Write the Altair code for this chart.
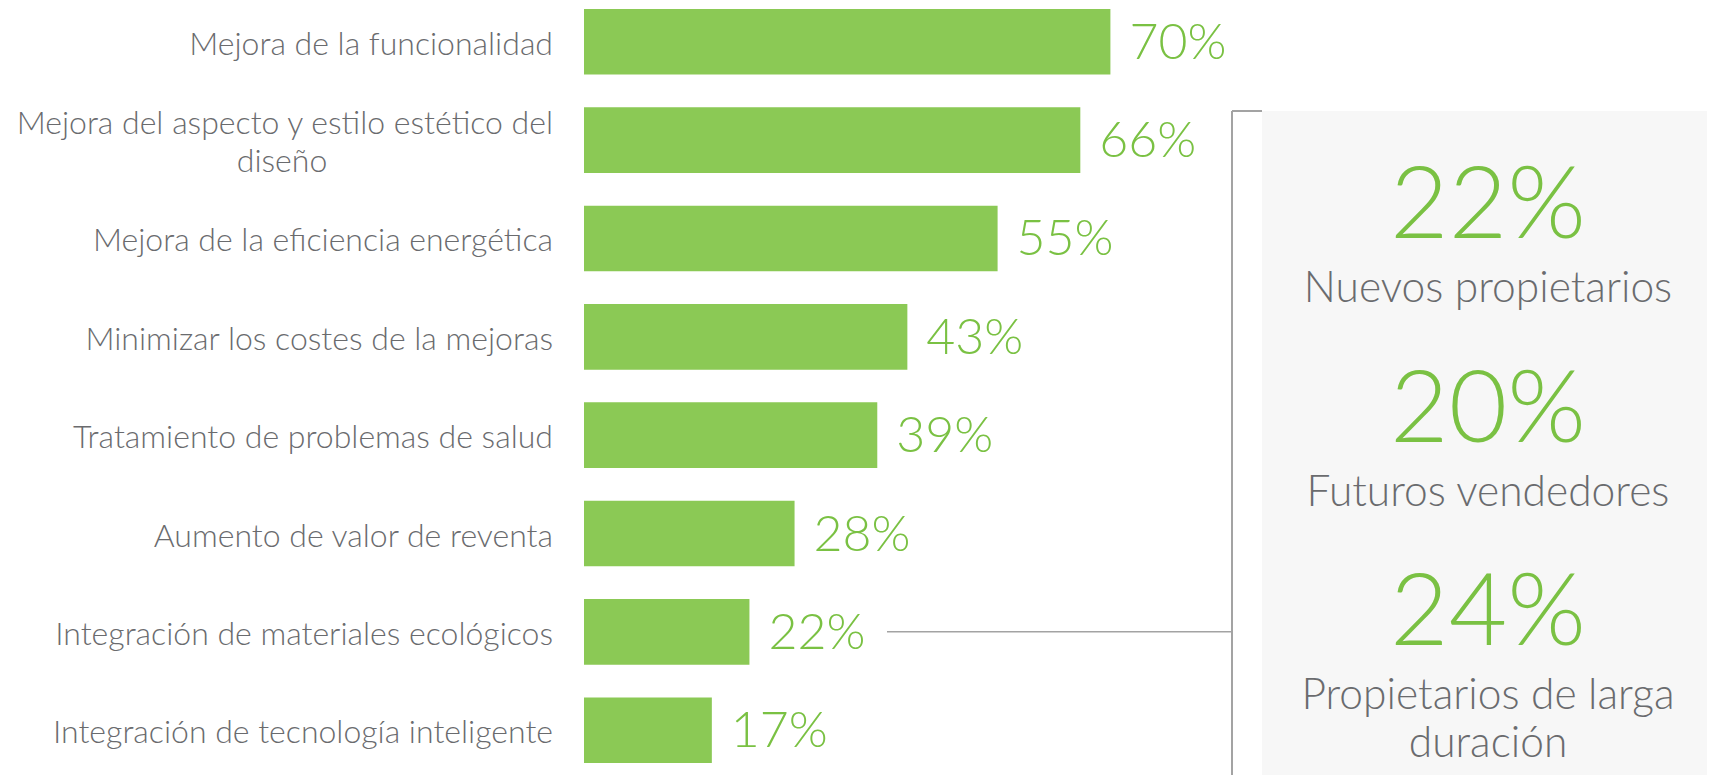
import altair as alt
import pandas as pd

# ---------------- data ----------------
categories = [
    "Mejora de la funcionalidad",
    "Mejora del aspecto y estilo estético del diseño",
    "Mejora de la eficiencia energética",
    "Minimizar los costes de la mejoras",
    "Tratamiento de problemas de salud",
    "Aumento de valor de reventa",
    "Integración de materiales ecológicos",
    "Integración de tecnología inteligente",
]
label_line1 = [
    "Mejora de la funcionalidad",
    "Mejora del aspecto y estilo estético del",
    "Mejora de la eficiencia energética",
    "Minimizar los costes de la mejoras",
    "Tratamiento de problemas de salud",
    "Aumento de valor de reventa",
    "Integración de materiales ecológicos",
    "Integración de tecnología inteligente",
]
label_line2 = ["", "diseño", "", "", "", "", "", ""]
values = [70, 66, 55, 43, 39, 28, 22, 17]

segments = ["Nuevos propietarios", "Futuros vendedores", "Propietarios de larga\nduración"]
segment_values = [22, 20, 24]
highlight_category = "Integración de materiales ecológicos"

# ---------------- style ----------------
W, H = 1699, 767
BAR = "#8BC955"
GREEN = "#7AC143"
GREY_TXT = "#6A6B6E"
LINE = "#A3A3A3"
PANEL = "#F7F7F7"
FONT = "Lato"

df = pd.DataFrame({
    "cat": categories,
    "l1": label_line1,
    "l2": label_line2,
    "value": values,
    "pct": [f"{v}%" for v in values],
})
seg = pd.DataFrame({
    "seg": segments,
    "value": segment_values,
    "pct": [f"{v}%" for v in segment_values],
})

yscale = alt.Scale(domain=categories, range=[1, 755], paddingInner=0.333, paddingOuter=0)
xscale = alt.Scale(domain=[0, 100], range=[576, 1328])
Y = alt.Y("cat:N", scale=yscale, axis=None, sort=categories)
X = alt.X("value:Q", scale=xscale, axis=None)

base = alt.Chart(df)

bars = base.mark_bar(color=BAR).encode(x=X, y=Y)

vlabels = base.mark_text(
    align="left", baseline="middle", dx=19, dy=2, font=FONT, fontWeight=300,
    fontSize=50, color=GREEN
).encode(x=X, y=Y, text="pct:N")

LBL = dict(font=FONT, fontWeight=300, fontSize=32, color=GREY_TXT, baseline="middle")

single = base.transform_filter("datum.l2 == ''").mark_text(
    align="right", dy=3, **LBL
).encode(x=alt.value(545), y=Y, text="l1:N")

double1 = base.transform_filter("datum.l2 != ''").mark_text(
    align="right", dy=-16, **LBL
).encode(x=alt.value(545), y=Y, text="l1:N")

double2 = base.transform_filter("datum.l2 != ''").mark_text(
    align="center", dy=22, **LBL
).encode(x=alt.value(274), y=Y, text="l2:N")

panel = alt.Chart(df).mark_rect(color=PANEL).encode(
    x=alt.value(1254), x2=alt.value(1704), y=alt.value(103), y2=alt.value(H)
)

vrule = alt.Chart(df).mark_rule(color=LINE, strokeWidth=1.5).encode(
    x=alt.value(1224), y=alt.value(103), y2=alt.value(H)
)
trule = alt.Chart(df).mark_rule(color=LINE, strokeWidth=1.5).encode(
    x=alt.value(1224), x2=alt.value(1254), y=alt.value(103)
)
connector = base.transform_filter(
    alt.datum.cat == highlight_category
).mark_rule(color=LINE, strokeWidth=1.5).encode(
    x=alt.value(879), x2=alt.value(1224), y=alt.Y("cat:N", scale=yscale, axis=None, bandPosition=0.5)
)

segscale = alt.Scale(type="point", domain=segments, range=[230, 637], padding=0)
SY = alt.Y("seg:N", scale=segscale, axis=None, sort=segments)

big = alt.Chart(seg).mark_text(
    align="center", baseline="alphabetic", font=FONT, fontWeight=300,
    fontSize=101, color=GREEN
).encode(x=alt.value(1480), y=SY, text="pct:N")

sub = alt.Chart(seg).mark_text(
    align="center", baseline="alphabetic", font=FONT, fontWeight=300, fontSize=42.5,
    color=GREY_TXT, dy=64, lineBreak="\n", lineHeight=48
).encode(x=alt.value(1480), y=SY, text="seg:N")

left = alt.layer(bars, vlabels, single, double1, double2, connector)
right = alt.layer(big, sub)

chart = alt.layer(panel, vrule, trule, left, right).resolve_scale(
    y="independent", x="independent"
).properties(
    width=W, height=H, padding=0,
    autosize=alt.AutoSizeParams(type="none"),
    background="white",
).configure_view(stroke=None)

chart.save("out.html", embed_options={"renderer": "svg", "actions": False})
